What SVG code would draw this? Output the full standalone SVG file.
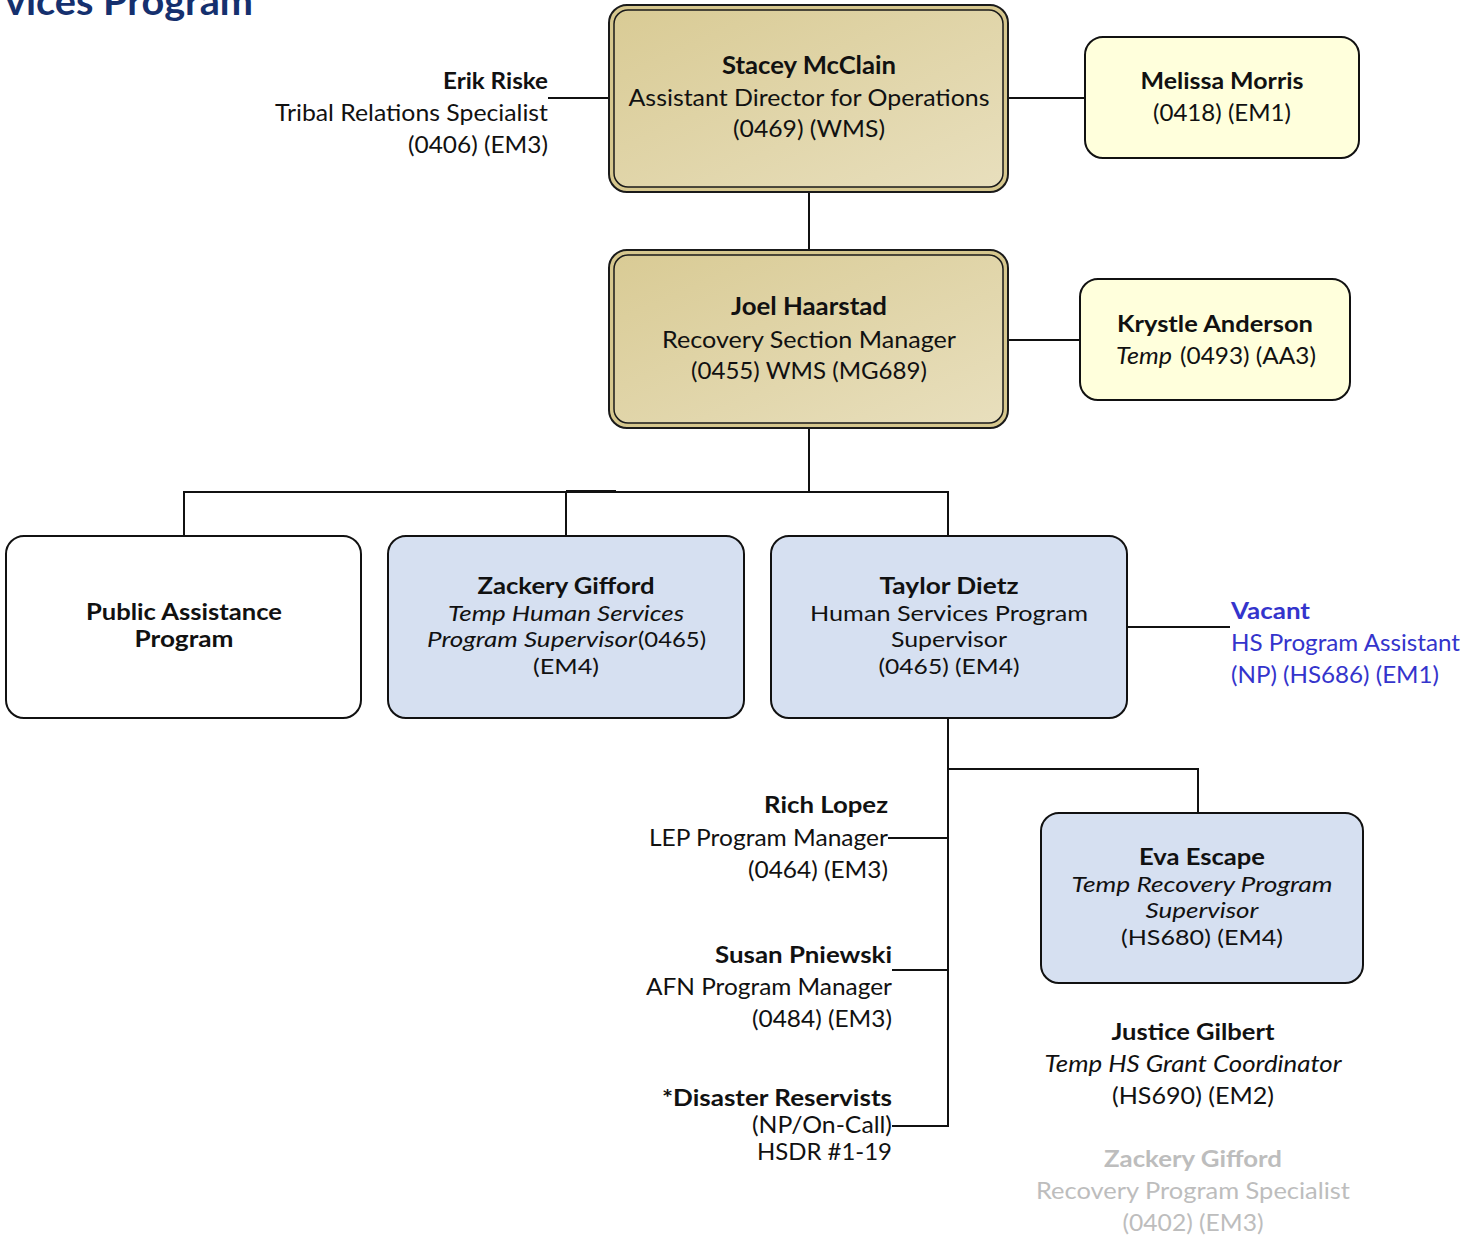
<svg xmlns="http://www.w3.org/2000/svg" width="1463" height="1238" viewBox="0 0 1463 1238">
<defs>
<linearGradient id="tan" x1="0" y1="0" x2="1" y2="1">
<stop offset="0" stop-color="#d9cb95"/>
<stop offset="1" stop-color="#e8dfbd"/>
</linearGradient>
</defs>
<style>
text{font-family:Lato,"Liberation Sans",sans-serif;font-size:23px;fill:#111;}
.b{font-weight:700;}
.i{font-style:italic;}
.m{text-anchor:middle;}
.e{text-anchor:end;}
.s{font-size:22px;}
.blue{fill:#3434cc;}
.grey{fill:#bdbdbd;}
.ln{stroke:#111;stroke-width:2;fill:none;}
.out{fill:#d6c78e;stroke:#1a1a1a;stroke-width:2;}
.inn{fill:url(#tan);stroke:#1a1a1a;stroke-width:1.5;}
.yel{fill:#ffffdc;stroke:#111;stroke-width:2;}
.bl{fill:#d6e0f1;stroke:#111;stroke-width:2;}
.wh{fill:#fff;stroke:#111;stroke-width:2;}
</style>
<text id="title" x="5" y="15" class="b" style="font-size:38px;fill:#15306e" textLength="248" lengthAdjust="spacingAndGlyphs">vices Program</text>

<g id="connectors">
<path class="ln" d="M548 98H609"/>
<path class="ln" d="M1008 98H1085"/>
<path class="ln" d="M809 193V250"/>
<path class="ln" d="M1008 340H1080"/>
<path class="ln" d="M809 428V492"/>
<path class="ln" d="M184 536V492H948V536"/>
<path class="ln" d="M566 492V536"/>
<path d="M566 490.5H616" stroke="#111" stroke-width="1" fill="none"/>
<path class="ln" d="M1127 627H1230"/>
<path class="ln" d="M948 718V1126H892"/>
<path class="ln" d="M948 769H1198V813"/>
<path class="ln" d="M888 838H948"/>
<path class="ln" d="M892 970H948"/>
</g>

<g id="erik">
<text x="548" y="89" class="b e" textLength="105" lengthAdjust="spacingAndGlyphs">Erik Riske</text>
<text x="548" y="121" class="e" textLength="273" lengthAdjust="spacingAndGlyphs">Tribal Relations Specialist</text>
<text x="548" y="153" class="e" textLength="140" lengthAdjust="spacingAndGlyphs">(0406) (EM3)</text>
</g>

<g id="stacey">
<rect class="out" x="609" y="5" width="399" height="187" rx="18"/>
<rect class="inn" x="614" y="10" width="389" height="177" rx="14"/>
<text x="809" y="74" class="b m" style="font-size:24px" textLength="174" lengthAdjust="spacingAndGlyphs">Stacey McClain</text>
<text x="809" y="106" class="m" textLength="361" lengthAdjust="spacingAndGlyphs">Assistant Director for Operations</text>
<text x="809" y="137" class="m" textLength="152" lengthAdjust="spacingAndGlyphs">(0469) (WMS)</text>
</g>

<g id="melissa">
<rect class="yel" x="1085" y="37" width="274" height="121" rx="18"/>
<text x="1222" y="89" class="b m" textLength="163" lengthAdjust="spacingAndGlyphs">Melissa Morris</text>
<text x="1222" y="121" class="m" textLength="138" lengthAdjust="spacingAndGlyphs">(0418) (EM1)</text>
</g>

<g id="joel">
<rect class="out" x="609" y="250" width="399" height="178" rx="18"/>
<rect class="inn" x="614" y="255" width="389" height="168" rx="14"/>
<text x="809" y="315" class="b m" style="font-size:24px" textLength="156" lengthAdjust="spacingAndGlyphs">Joel Haarstad</text>
<text x="809" y="348" class="m" textLength="294" lengthAdjust="spacingAndGlyphs">Recovery Section Manager</text>
<text x="809" y="379" class="m" textLength="236" lengthAdjust="spacingAndGlyphs">(0455) WMS (MG689)</text>
</g>

<g id="krystle">
<rect class="yel" x="1080" y="279" width="270" height="121" rx="18"/>
<text x="1215" y="332" class="b m" textLength="196" lengthAdjust="spacingAndGlyphs">Krystle Anderson</text>
<text x="1116" y="364" class="i" textLength="56" lengthAdjust="spacingAndGlyphs">Temp</text>
<text x="1180" y="364" textLength="136" lengthAdjust="spacingAndGlyphs">(0493) (AA3)</text>
</g>

<g id="public-assistance">
<rect class="wh" x="6" y="536" width="355" height="182" rx="18"/>
<text x="184" y="620" class="b m s" textLength="196" lengthAdjust="spacingAndGlyphs">Public Assistance</text>
<text x="184" y="647" class="b m s" textLength="99" lengthAdjust="spacingAndGlyphs">Program</text>
</g>

<g id="zackery-temp">
<rect class="bl" x="388" y="536" width="356" height="182" rx="18"/>
<text x="566" y="594" class="b m s" textLength="177" lengthAdjust="spacingAndGlyphs">Zackery Gifford</text>
<text x="566" y="621" class="i m s" textLength="236" lengthAdjust="spacingAndGlyphs">Temp Human Services</text>
<text x="427" y="647" class="i s" textLength="210" lengthAdjust="spacingAndGlyphs">Program Supervisor</text>
<text x="638" y="647" class="s" textLength="68" lengthAdjust="spacingAndGlyphs">(0465)</text>
<text x="566" y="674" class="m s" textLength="66" lengthAdjust="spacingAndGlyphs">(EM4)</text>
</g>

<g id="taylor">
<rect class="bl" x="771" y="536" width="356" height="182" rx="18"/>
<text x="949" y="594" class="b m s" textLength="139" lengthAdjust="spacingAndGlyphs">Taylor Dietz</text>
<text x="949" y="621" class="m s" textLength="278" lengthAdjust="spacingAndGlyphs">Human Services Program</text>
<text x="949" y="647" class="m s" textLength="116" lengthAdjust="spacingAndGlyphs">Supervisor</text>
<text x="949" y="674" class="m s" textLength="141" lengthAdjust="spacingAndGlyphs">(0465) (EM4)</text>
</g>

<g id="vacant">
<text x="1231" y="619" class="b blue" textLength="79" lengthAdjust="spacingAndGlyphs">Vacant</text>
<text x="1231" y="651" class="blue" textLength="229" lengthAdjust="spacingAndGlyphs">HS Program Assistant</text>
<text x="1231" y="683" class="blue" textLength="208" lengthAdjust="spacingAndGlyphs">(NP) (HS686) (EM1)</text>
</g>

<g id="rich">
<text x="888" y="813" class="b e" textLength="124" lengthAdjust="spacingAndGlyphs">Rich Lopez</text>
<text x="888" y="846" class="e" textLength="239" lengthAdjust="spacingAndGlyphs">LEP Program Manager</text>
<text x="888" y="878" class="e" textLength="140" lengthAdjust="spacingAndGlyphs">(0464) (EM3)</text>
</g>

<g id="susan">
<text x="892" y="963" class="b e" textLength="177" lengthAdjust="spacingAndGlyphs">Susan Pniewski</text>
<text x="892" y="995" class="e" textLength="246" lengthAdjust="spacingAndGlyphs">AFN Program Manager</text>
<text x="892" y="1027" class="e" textLength="140" lengthAdjust="spacingAndGlyphs">(0484) (EM3)</text>
</g>

<g id="reservists">
<text x="892" y="1106" class="b e" textLength="230" lengthAdjust="spacingAndGlyphs">*Disaster Reservists</text>
<text x="892" y="1133" class="e" textLength="140" lengthAdjust="spacingAndGlyphs">(NP/On-Call)</text>
<text x="892" y="1160" class="e" textLength="135" lengthAdjust="spacingAndGlyphs">HSDR #1-19</text>
</g>

<g id="eva">
<rect class="bl" x="1041" y="813" width="322" height="170" rx="18"/>
<text x="1202" y="865" class="b m s" textLength="126" lengthAdjust="spacingAndGlyphs">Eva Escape</text>
<text x="1202" y="892" class="i m s" textLength="261" lengthAdjust="spacingAndGlyphs">Temp Recovery Program</text>
<text x="1202" y="918" class="i m s" textLength="113" lengthAdjust="spacingAndGlyphs">Supervisor</text>
<text x="1202" y="945" class="m s" textLength="162" lengthAdjust="spacingAndGlyphs">(HS680) (EM4)</text>
</g>

<g id="justice">
<text x="1193" y="1040" class="b m" textLength="163" lengthAdjust="spacingAndGlyphs">Justice Gilbert</text>
<text x="1193" y="1072" class="i m" textLength="297" lengthAdjust="spacingAndGlyphs">Temp HS Grant Coordinator</text>
<text x="1193" y="1104" class="m" textLength="162" lengthAdjust="spacingAndGlyphs">(HS690) (EM2)</text>
</g>

<g id="zackery-grey">
<text x="1193" y="1167" class="b m grey" textLength="178" lengthAdjust="spacingAndGlyphs">Zackery Gifford</text>
<text x="1193" y="1199" class="m grey" textLength="314" lengthAdjust="spacingAndGlyphs">Recovery Program Specialist</text>
<text x="1193" y="1231" class="m grey" textLength="141" lengthAdjust="spacingAndGlyphs">(0402) (EM3)</text>
</g>
</svg>
